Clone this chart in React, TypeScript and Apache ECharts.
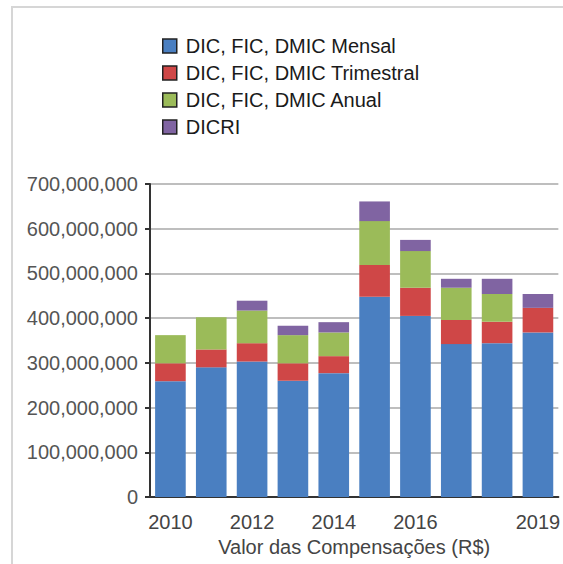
import React, { useEffect, useRef } from "react";
import * as echarts from "echarts";

const years = ["2010", "2011", "2012", "2013", "2014", "2015", "2016", "2017", "2018", "2019"];
const shownYears = ["2010", "2012", "2014", "2016", "2019"];
const seriesNames = [
  "DIC, FIC, DMIC Mensal",
  "DIC, FIC, DMIC Trimestral",
  "DIC, FIC, DMIC Anual",
  "DICRI",
];
const mensal = [259e6, 290e6, 303e6, 260e6, 277e6, 448e6, 405e6, 342e6, 344e6, 368e6];
const trimestral = [40e6, 40e6, 41e6, 39e6, 38e6, 71e6, 63e6, 54e6, 48e6, 55e6];
const anual = [63e6, 72e6, 73e6, 63e6, 53e6, 98e6, 82e6, 72e6, 62e6, 0];
const dicri = [0, 0, 22e6, 21e6, 23e6, 44e6, 25e6, 20e6, 34e6, 31e6];
const colors = ["#4a7fc1", "#cf4747", "#9bbb59", "#8064a2"];

export default function App() {
  const ref = useRef<HTMLDivElement>(null);
  useEffect(() => {
    if (!ref.current) return;
    const chart = echarts.init(ref.current, null, { renderer: "svg" });
    const font = "Liberation Sans, Arial, sans-serif";
    const dataSets = [mensal, trimestral, anual, dicri];
    chart.setOption({
      animation: false,
      textStyle: { fontFamily: font },
      graphic: [
        {
          type: "rect",
          shape: { x: 12, y: 7, width: 700, height: 700 },
          style: { fill: "none", stroke: "#d6d6d6", lineWidth: 2 },
          silent: true,
        },
      ],
      legend: {
        orient: "vertical",
        left: 157,
        top: 31,
        itemWidth: 14,
        itemHeight: 14,
        itemGap: 7,
        icon: "rect",
        data: seriesNames,
        itemStyle: { borderColor: "#222", borderWidth: 1.5 },
        textStyle: { fontSize: 20, color: "#1a1a1a", fontFamily: font, padding: [0, 0, 0, 4] },
      },
      grid: { left: 150, right: 1, top: 184, bottom: 67, containLabel: false },
      xAxis: {
        type: "category",
        data: years,
        name: "Valor das Compensações (R$)",
        nameLocation: "middle",
        nameGap: 40,
        nameTextStyle: { fontSize: 20, color: "#444", fontFamily: font },
        axisLine: { lineStyle: { color: "#333", width: 2 } },
        axisTick: {
          alignWithLabel: true,
          length: 6,
          lineStyle: { color: "#333", width: 2 },
          interval: (i: number, v: string) => shownYears.includes(v),
        },
        axisLabel: {
          interval: (i: number, v: string) => shownYears.includes(v),
          fontSize: 20,
          color: "#444",
          margin: 15,
          fontFamily: font,
        },
      },
      yAxis: {
        type: "value",
        min: 0,
        max: 700000000,
        interval: 100000000,
        axisLine: { show: true, lineStyle: { color: "#333", width: 2 } },
        axisTick: { show: true, length: 5, lineStyle: { color: "#333", width: 2 } },
        splitLine: { lineStyle: { color: "#a8a8a8", width: 1.5 } },
        axisLabel: {
          fontSize: 20,
          color: "#555",
          margin: 12,
          fontFamily: font,
          formatter: (v: number) => v.toLocaleString("en-US"),
        },
      },
      series: seriesNames.map((name, i) => ({
        name,
        type: "bar",
        stack: "total",
        barCategoryGap: "25%",
        data: dataSets[i],
        itemStyle: { color: colors[i] },
      })),
    });
    return () => chart.dispose();
  }, []);
  return (
    <div
      ref={ref}
      style={{ position: "fixed", left: 0, top: 0, width: 563, height: 564, background: "#fff" }}
    />
  );
}
